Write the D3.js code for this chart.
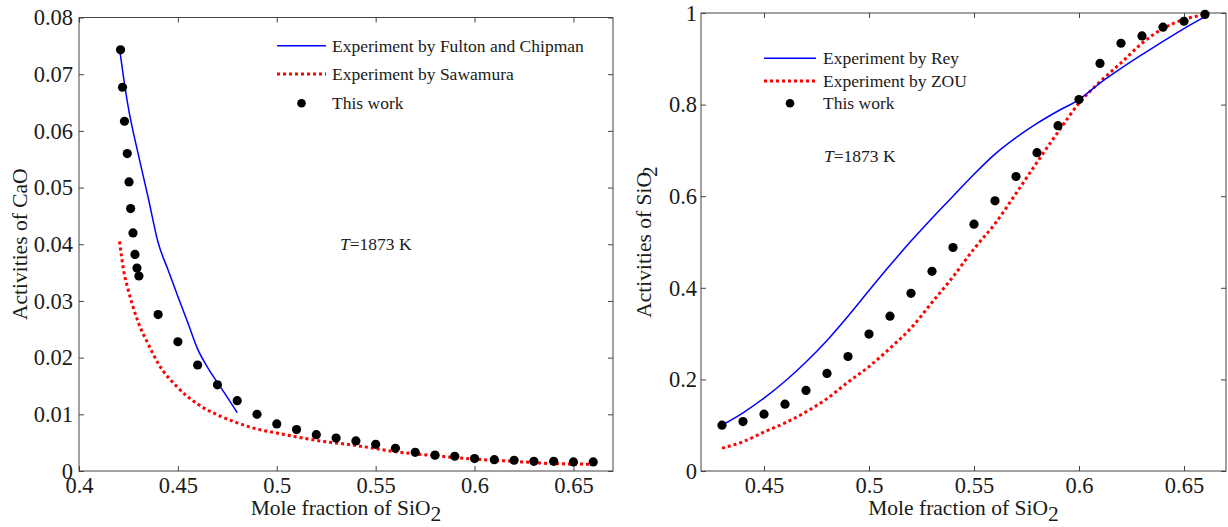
<!DOCTYPE html>
<html><head><meta charset="utf-8">
<script src="https://cdn.jsdelivr.net/npm/d3@7"></script>
<style>
body{margin:0;background:#fff}
svg{display:block}
text{font-family:"Liberation Serif","Times New Roman",serif;fill:#1a1a1a}
</style>
</head><body><svg id="c" width="1228" height="527"></svg>
<script>
// ---------- Left panel: activities of CaO ----------
const caoWorkX = [0.421,0.422,0.423,0.4244,0.4253,0.4261,0.4273,0.4283,0.4293,0.4303,0.44,0.45,0.46,0.47,0.48,0.49,0.50,0.51,0.52,0.53,0.54,0.55,0.56,0.57,0.58,0.59,0.60,0.61,0.62,0.63,0.64,0.65,0.66];
const caoWorkY = [0.0743,0.0677,0.0617,0.0560,0.0510,0.0463,0.0420,0.0382,0.0358,0.0344,0.0276,0.0228,0.0187,0.0152,0.0124,0.0100,0.0083,0.0073,0.0064,0.0058,0.0053,0.0047,0.0040,0.0033,0.0028,0.0026,0.0022,0.0020,0.0019,0.0017,0.0017,0.0016,0.0016];
const caoFultonX = [0.4205,0.4225,0.425,0.43,0.435,0.44,0.445,0.45,0.455,0.46,0.465,0.47,0.475,0.48];
const caoFultonY = [0.0745,0.0695,0.0640,0.0558,0.0482,0.0403,0.0355,0.0308,0.0262,0.0215,0.0183,0.0156,0.0130,0.0103];
const caoSawamuraX = [0.4205,0.4225,0.425,0.43,0.435,0.44,0.45,0.46,0.47,0.48,0.49,0.50,0.52,0.54,0.56,0.58,0.60,0.62,0.64,0.66];
const caoSawamuraY = [0.0405,0.0355,0.0318,0.0262,0.0224,0.0190,0.0147,0.0118,0.0099,0.0085,0.0074,0.0067,0.0054,0.0045,0.0034,0.0027,0.0021,0.0017,0.0013,0.0012];
const caoXTicks = [0.4,0.45,0.5,0.55,0.6,0.65];
const caoYTicks = [0,0.01,0.02,0.03,0.04,0.05,0.06,0.07,0.08];
const caoLegend = ["Experiment by Fulton and Chipman","Experiment by Sawamura","This work"];

// ---------- Right panel: activities of SiO2 ----------
const sioWorkX = [0.43,0.44,0.45,0.46,0.47,0.48,0.49,0.50,0.51,0.52,0.53,0.54,0.55,0.56,0.57,0.58,0.59,0.60,0.61,0.62,0.63,0.64,0.65,0.66];
const sioWorkY = [0.100,0.108,0.124,0.146,0.176,0.213,0.250,0.299,0.338,0.388,0.436,0.488,0.539,0.590,0.643,0.695,0.754,0.811,0.890,0.934,0.950,0.969,0.982,0.997];
const sioReyX = [0.43,0.44,0.45,0.46,0.47,0.48,0.49,0.50,0.51,0.52,0.53,0.54,0.55,0.56,0.57,0.58,0.59,0.60,0.61,0.62,0.63,0.64,0.65,0.66];
const sioReyY = [0.100,0.127,0.159,0.196,0.238,0.285,0.338,0.394,0.449,0.502,0.552,0.600,0.648,0.692,0.728,0.759,0.786,0.811,0.847,0.879,0.909,0.938,0.966,0.992];
const sioZouX = [0.43,0.44,0.45,0.46,0.47,0.48,0.49,0.50,0.51,0.52,0.53,0.54,0.55,0.56,0.57,0.58,0.59,0.60,0.61,0.62,0.63,0.64,0.65,0.66];
const sioZouY = [0.050,0.064,0.085,0.105,0.129,0.158,0.194,0.228,0.268,0.312,0.368,0.424,0.485,0.540,0.606,0.674,0.740,0.803,0.850,0.891,0.934,0.966,0.986,0.996];
const sioXTicks = [0.45,0.5,0.55,0.6,0.65];
const sioYTicks = [0,0.2,0.4,0.6,0.8,1];
const sioLegend = ["Experiment by Rey","Experiment by ZOU","This work"];

const SERIF = '"Liberation Serif","Times New Roman",serif';
const svg = d3.select("#c");
const zip = (xs, ys) => xs.map((x, i) => [x, ys[i]]);

function panel(o) {
  const g = svg.append("g");
  const x = d3.scaleLinear().domain(o.xDomain).range([o.left, o.right]);
  const y = d3.scaleLinear().domain(o.yDomain).range([o.bottom, o.top]);
  const fmt = d => String(d);

  const ax = (gen, tr, labels) => {
    const a = g.append("g").attr("transform", tr).call(gen)
      .attr("font-family", SERIF).attr("font-size", 22.5);
    a.select(".domain").remove();
    a.selectAll(".tick line").attr("stroke", "#444");
    if (!labels) a.selectAll(".tick text").remove();
    else a.selectAll(".tick text").attr("fill", "#1a1a1a")
      .style("font-size", "22.5px").style("font-family", SERIF);
    return a;
  };
  ax(d3.axisBottom(x).tickValues(o.xTicks).tickFormat(fmt).tickSizeInner(-5).tickSizeOuter(0).tickPadding(6), `translate(0,${o.bottom})`, true);
  ax(d3.axisTop(x).tickValues(o.xTicks).tickSizeInner(-5).tickSizeOuter(0), `translate(0,${o.top})`, false);
  ax(d3.axisLeft(y).tickValues(o.yTicks).tickFormat(fmt).tickSizeInner(-5).tickSizeOuter(0).tickPadding(o.yPad), `translate(${o.left},0)`, true);
  ax(d3.axisRight(y).tickValues(o.yTicks).tickSizeInner(-5).tickSizeOuter(0), `translate(${o.right},0)`, false);

  g.append("rect").attr("x", o.left).attr("y", o.top)
    .attr("width", o.right - o.left).attr("height", o.bottom - o.top)
    .attr("fill", "none").attr("stroke", "#444").attr("stroke-width", 1);

  const line = d3.line().x(d => x(d[0])).y(d => y(d[1])).curve(d3.curveMonotoneX);
  g.append("path").datum(zip(o.redX, o.redY)).attr("d", line)
    .attr("fill", "none").attr("stroke", "#ff0000").attr("stroke-width", 3).attr("stroke-dasharray", "3,3");
  g.append("path").datum(zip(o.blueX, o.blueY)).attr("d", line)
    .attr("fill", "none").attr("stroke", "#0000ff").attr("stroke-width", 1.5);
  g.selectAll("circle.pt").data(zip(o.workX, o.workY)).join("circle").attr("class", "pt")
    .attr("cx", d => x(d[0])).attr("cy", d => y(d[1])).attr("r", 4.6).attr("fill", "#000");

  // legend
  const L = o.legend;
  const lg = g.append("g");
  lg.append("line").attr("x1", L.x0).attr("x2", L.x1).attr("y1", L.rows[0]).attr("y2", L.rows[0])
    .attr("stroke", "#0000ff").attr("stroke-width", 1.5);
  lg.append("line").attr("x1", L.x0).attr("x2", L.x1).attr("y1", L.rows[1]).attr("y2", L.rows[1])
    .attr("stroke", "#ff0000").attr("stroke-width", 3).attr("stroke-dasharray", "3,3");
  lg.append("circle").attr("cx", (L.x0 + L.x1) / 2).attr("cy", L.rows[2]).attr("r", 4.3).attr("fill", "#000");
  o.legendLabels.forEach((t, i) => {
    lg.append("text").attr("x", L.tx).attr("y", L.rows[i] + 6).style("font-size", "17.5px").text(t);
  });

  // temperature annotation
  const tt = g.append("text").attr("x", o.tLabel[0]).attr("y", o.tLabel[1]).style("font-size", "17.5px");
  tt.append("tspan").style("font-style", "italic").text("T");
  tt.append("tspan").text("=1873 K");

  // x label
  const xl = g.append("text").attr("x", (o.left + o.right) / 2).attr("y", 515)
    .attr("text-anchor", "middle").style("font-size", "21.5px");
  xl.append("tspan").text("Mole fraction of SiO");
  xl.append("tspan").attr("dy", 6).text("2");

  // y label
  const yl = g.append("text").attr("transform", `translate(${o.yLabelX},${(o.top + o.bottom) / 2}) rotate(-90)`)
    .attr("text-anchor", "middle").style("font-size", "21.5px");
  yl.append("tspan").text(o.yLabel);
  if (o.yLabelSub) yl.append("tspan").attr("dy", 6).attr("dx", -5).text(o.yLabelSub);
}

panel({
  left: 79, right: 613, top: 17.5, bottom: 471,
  xDomain: [0.4, 0.67], yDomain: [0, 0.08],
  xTicks: caoXTicks, yTicks: caoYTicks, yPad: 6,
  workX: caoWorkX, workY: caoWorkY,
  blueX: caoFultonX, blueY: caoFultonY,
  redX: caoSawamuraX, redY: caoSawamuraY,
  legendLabels: caoLegend,
  legend: { x0: 277, x1: 326, tx: 332, rows: [45.7, 74, 103.3] },
  tLabel: [340, 250],
  yLabel: "Activities of CaO", yLabelX: 27
});

panel({
  left: 701, right: 1226, top: 13, bottom: 471,
  xDomain: [0.42, 0.67], yDomain: [0, 1],
  xTicks: sioXTicks, yTicks: sioYTicks, yPad: 4,
  workX: sioWorkX, workY: sioWorkY,
  blueX: sioReyX, blueY: sioReyY,
  redX: sioZouX, redY: sioZouY,
  legendLabels: sioLegend,
  legend: { x0: 764, x1: 816, tx: 823, rows: [58.3, 81, 103.3] },
  tLabel: [824, 162],
  yLabel: "Activities of SiO", yLabelSub: "2", yLabelX: 651
});
</script></body></html>
